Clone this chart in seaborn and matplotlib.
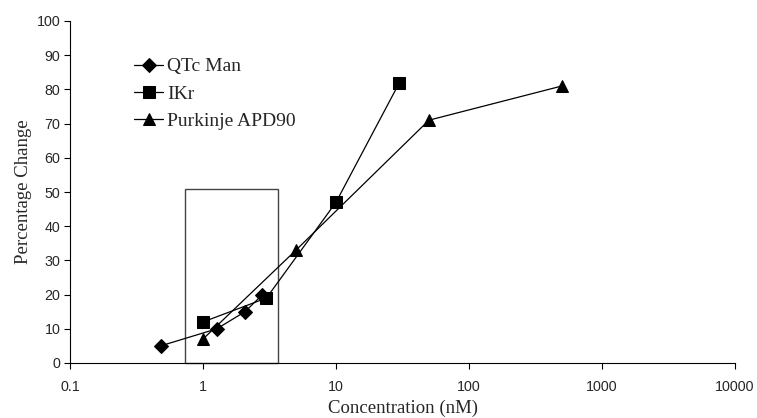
import numpy as np
import pandas as pd
import matplotlib
matplotlib.use("Agg")
import matplotlib.pyplot as plt
import seaborn as sns
from matplotlib.patches import Rectangle

# Data
qtc_conc = [0.48, 1.27, 2.07, 2.8]
qtc_pct = [5, 10, 15, 20]
ikr_conc = [1, 3, 10, 30]
ikr_pct = [12, 19, 47, 82]
purk_conc = [1, 5, 50, 500]
purk_pct = [7, 33, 71, 81]

series_names = ["QTc Man", "IKr", "Purkinje APD90"]
series_markers = {"QTc Man": "D", "IKr": "s", "Purkinje APD90": "^"}
marker_sizes = {"QTc Man": 7.5, "IKr": 9, "Purkinje APD90": 9}

frames = []
for name, xs, ys in zip(series_names, [qtc_conc, ikr_conc, purk_conc], [qtc_pct, ikr_pct, purk_pct]):
    frames.append(pd.DataFrame({"Concentration": xs, "Percentage": ys, "series": name}))
df = pd.concat(frames, ignore_index=True)

# highlighted region box
box_x = [0.73, 3.67]
box_y = [0, 51]

sns.set_style("white")
serif = ["Liberation Serif", "DejaVu Serif"]
sans = ["Liberation Sans", "DejaVu Sans"]

fig = plt.figure(figsize=(7.57, 4.18), dpi=100)
ax = fig.add_axes([70 / 757, 1 - 363 / 418, (735 - 70) / 757, (363 - 21) / 418])

for name in series_names:
    sub = df[df["series"] == name]
    sns.lineplot(data=sub, x="Concentration", y="Percentage", ax=ax, color="black",
                 marker=series_markers[name], markersize=marker_sizes[name],
                 markeredgecolor="black", linewidth=0.9, label=name, sort=False)

ax.add_patch(Rectangle((box_x[0], box_y[0]), box_x[1] - box_x[0], box_y[1] - box_y[0],
                       fill=False, edgecolor="#444444", linewidth=1.0, clip_on=False))

ax.set_xscale("log")
ax.set_xlim(0.1, 10000)
ax.set_ylim(0, 100)
ax.set_xticks([0.1, 1, 10, 100, 1000, 10000])
ax.set_xticklabels(["0.1", "1", "10", "100", "1000", "10000"])
ax.xaxis.set_minor_locator(matplotlib.ticker.NullLocator())
ax.set_yticks(range(0, 101, 10))

for side in ["top", "right"]:
    ax.spines[side].set_visible(False)
for side in ["left", "bottom"]:
    ax.spines[side].set_color("black")
    ax.spines[side].set_linewidth(0.8)

ax.tick_params(axis="both", which="major", direction="out", length=4, width=0.8,
               color="black", labelsize=10.3, bottom=True, left=True)
ax.tick_params(axis="x", pad=8)
ax.tick_params(axis="y", pad=3)
for lab in ax.get_xticklabels() + ax.get_yticklabels():
    lab.set_family(sans)

ax.set_xlabel("Concentration (nM)", fontsize=13.5, family=serif, labelpad=4)
ax.set_ylabel("Percentage Change", fontsize=13.5, family=serif, labelpad=3)

leg = ax.legend(loc="upper left", bbox_to_anchor=(0.085, 0.915), frameon=False,
                prop={"family": serif, "size": 14}, handlelength=1.5,
                handletextpad=0.2, labelspacing=0.5, borderaxespad=0)

fig.savefig("out.png", dpi=100)
